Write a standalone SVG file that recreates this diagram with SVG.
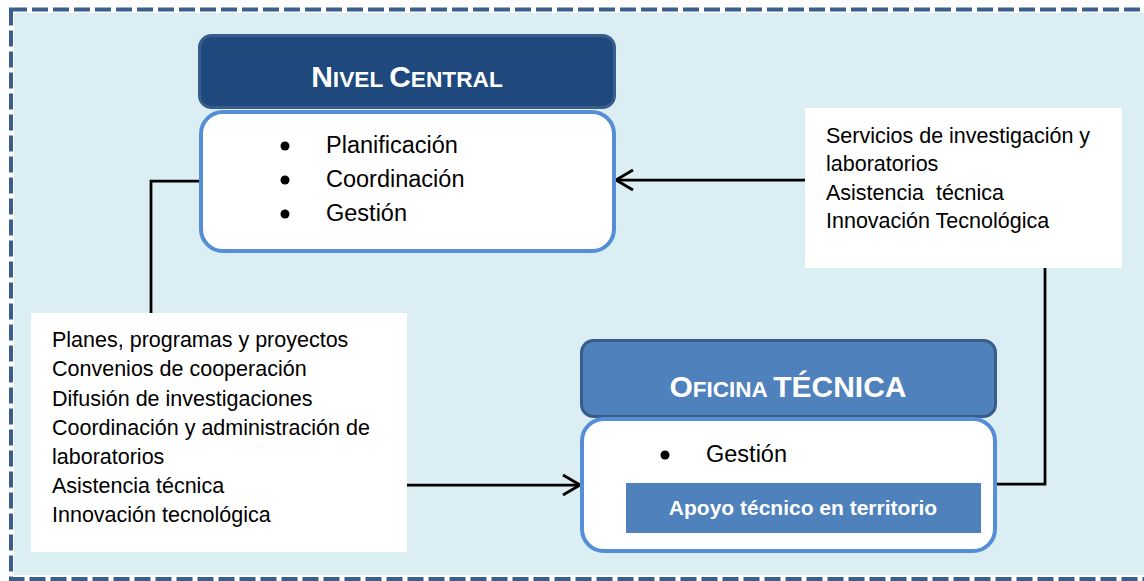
<svg xmlns="http://www.w3.org/2000/svg" width="1144" height="581" viewBox="0 0 1144 581">
<style>
  .hdr{stroke:#385d8a;stroke-width:3}
  .body{fill:#fff;stroke:#558ed5;stroke-width:4}
  .ttl{font-family:"Liberation Sans",Arial,sans-serif;font-weight:bold;fill:#fff;text-anchor:middle}
  .txt{font-family:"Liberation Sans",Arial,sans-serif;fill:#000;white-space:pre}
  .conn{fill:none;stroke:#000;stroke-width:2.75}
</style>
<defs>
  <marker id="arr" markerUnits="userSpaceOnUse" viewBox="-20 -12 22 24" refX="0" refY="0" markerWidth="22" markerHeight="24" orient="auto">
    <path d="M-17,-10 L0,0 L-17,10" fill="none" stroke="#000" stroke-width="2.75"/>
  </marker>
</defs>
<rect x="0" y="0" width="1144" height="581" fill="#fff"/>
<rect x="14" y="13" width="1140" height="562" fill="#daeef3"/>
<rect x="11" y="9.5" width="1150" height="569.5" fill="none" stroke="#3a5f8c" stroke-width="4" stroke-dasharray="16 5"/>

<g id="connectors">
  <path class="conn" d="M200 181 H151 V313"/>
  <path class="conn" d="M407 485 H580" marker-end="url(#arr)"/>
  <path class="conn" d="M805 180 H616" marker-end="url(#arr)"/>
  <path class="conn" d="M1045 268 V484 H996"/>
</g>

<g id="nivel-central">
  <rect class="hdr" x="199.5" y="35.5" width="415" height="72" rx="12" fill="#1f497d"/>
  <rect class="body" x="201" y="112" width="413" height="139" rx="22"/>
  <text class="ttl" x="407" y="87"><tspan font-size="30">N</tspan><tspan font-size="22.7">IVEL </tspan><tspan font-size="30">C</tspan><tspan font-size="22.7">ENTRAL</tspan></text>
  <circle cx="285" cy="146" r="4.5"/>
  <circle cx="285" cy="180" r="4.5"/>
  <circle cx="285" cy="214" r="4.5"/>
  <text class="txt" x="326" y="153" font-size="23.5">Planificación</text>
  <text class="txt" x="326" y="187" font-size="23.5">Coordinación</text>
  <text class="txt" x="326" y="221" font-size="23.5">Gestión</text>
</g>

<g id="servicios">
  <rect x="805" y="108" width="317" height="160" fill="#fff"/>
  <text class="txt" x="826" y="143" font-size="21.5">Servicios de investigación y</text>
  <text class="txt" x="826" y="171" font-size="21.5">laboratorios</text>
  <text class="txt" x="826" y="200" font-size="21.5">Asistencia  técnica</text>
  <text class="txt" x="826" y="228" font-size="21.5">Innovación Tecnológica</text>
</g>

<g id="planes">
  <rect x="31" y="313" width="376" height="239" fill="#fff"/>
  <text class="txt" x="52" y="347" font-size="21.5">Planes, programas y proyectos</text>
  <text class="txt" x="52" y="376" font-size="21.5">Convenios de cooperación</text>
  <text class="txt" x="52" y="406" font-size="21.5">Difusión de investigaciones</text>
  <text class="txt" x="52" y="435" font-size="21.5">Coordinación y administración de</text>
  <text class="txt" x="52" y="464" font-size="21.5">laboratorios</text>
  <text class="txt" x="52" y="493" font-size="21.5">Asistencia técnica</text>
  <text class="txt" x="52" y="522" font-size="21.5">Innovación tecnológica</text>
</g>

<g id="oficina-tecnica">
  <rect class="hdr" x="581.5" y="340.5" width="414" height="76" rx="12" fill="#4f81bd"/>
  <rect class="body" x="582" y="419" width="413" height="132" rx="22"/>
  <text class="ttl" x="788" y="397"><tspan font-size="30">O</tspan><tspan font-size="22.5">FICINA </tspan><tspan font-size="30">TÉCNICA</tspan></text>
  <circle cx="665" cy="455" r="4.5"/>
  <text class="txt" x="706" y="462" font-size="23.5">Gestión</text>
  <rect x="626" y="483" width="355" height="50" fill="#4f81bd"/>
  <text class="ttl" x="803" y="515" font-size="21">Apoyo técnico en territorio</text>
</g>
</svg>
